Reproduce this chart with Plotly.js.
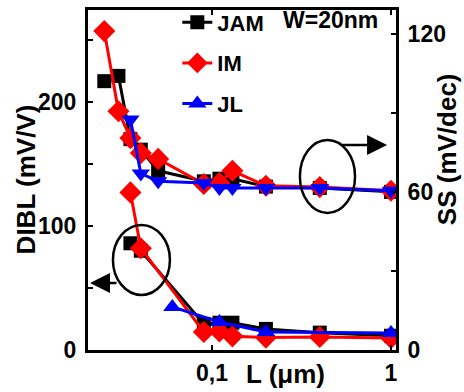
<!DOCTYPE html>
<html>
<head>
<meta charset="utf-8">
<script src="https://cdn.plot.ly/plotly-3.0.1.min.js"></script>
<style>html,body{margin:0;padding:0;background:#fff;}#chart{width:464px;height:392px;}</style>
</head>
<body>
<div id="chart"></div>
<script>
// ---- data ----
const seriesNames = ['JAM', 'IM', 'JL'];

// Subthreshold swing SS (mV/dec), right axis
const jamSS_L  = [0.025, 0.03, 0.035, 0.04, 0.05, 0.09, 0.11, 0.13, 0.2, 0.4, 1];
const jamSS    = [102, 104, 80, 76, 68, 64, 65, 65, 62, 61.5, 60];
const imSS_L   = [0.025, 0.03, 0.035, 0.04, 0.05, 0.09, 0.11, 0.13, 0.2, 0.4, 1];
const imSS     = [121, 90.6, 80.4, 74.7, 72.5, 63, 63.4, 68, 62.3, 61.8, 60.4];
const jlSS_L   = [0.035, 0.04, 0.05, 0.09, 0.11, 0.13, 0.2, 0.4, 1];
const jlSS     = [87.5, 67, 64, 63.4, 61.5, 61.5, 61.5, 61.5, 60.4];

// DIBL (mV/V), left axis
const jamDIBL_L = [0.035, 0.04, 0.09, 0.11, 0.13, 0.2, 0.4, 1];
const jamDIBL   = [86, 80, 21, 22, 22, 17, 14, 11.5];
const imDIBL_L  = [0.035, 0.04, 0.09, 0.11, 0.13, 0.2, 0.4, 1];
const imDIBL    = [127, 82, 14.5, 15, 11, 10, 10.5, 9.7];
const jlDIBL_L  = [0.06, 0.11, 0.2, 1];
const jlDIBL    = [34.7, 22.6, 14.5, 13.7];

// tick labels
const xTickVals = [0.1, 1];
const xTickText = ['0,1', '1'];
const yTickVals = [0, 50, 100, 150, 200, 250];
const yTickText = ['0', '', '100', '', '200', ''];
const y2TickVals = [0, 30, 60, 90, 120];
const y2TickText = ['0', '', '60', '', '120'];

// ---- styles ----
const FONT = 'Liberation Sans, Arial, Helvetica, sans-serif';
const colors = {JAM: '#000000', IM: '#ff0000', JL: '#0000ff'};

function tr(name, x, y, yaxis, symbol, size, showlegend) {
  return {
    x: x, y: y, yaxis: yaxis, name: name, type: 'scatter', mode: 'lines+markers',
    line: {color: colors[name], width: 3},
    marker: {symbol: symbol, size: size, color: colors[name], line: {width: 0}},
    legendgroup: name, showlegend: showlegend
  };
}

const data = [
  tr('JAM', jamSS_L, jamSS, 'y2', 'square', 14, false),
  tr('JAM', jamDIBL_L, jamDIBL, 'y', 'square', 14, true),
  tr('IM', imSS_L, imSS, 'y2', 'diamond', 17, false),
  tr('IM', imDIBL_L, imDIBL, 'y', 'diamond', 17, true),
  tr('JL', jlSS_L, jlSS, 'y2', 'triangle-down', 16, false),
  tr('JL', jlDIBL_L, jlDIBL, 'y', 'triangle-up', 16, true)
];

const tickFont = {family: FONT, size: 23, color: '#000', weight: 'bold'};
const titleFont = {family: FONT, size: 26, color: '#000', weight: 'bold'};

const layout = {
  width: 464, height: 392,
  margin: {l: 88, r: 68, t: 10, b: 42, autoexpand: false},
  paper_bgcolor: '#fff', plot_bgcolor: '#fff',
  showlegend: true,
  legend: {
    x: 0.29, y: 1.025, xanchor: 'left', yanchor: 'top',
    bgcolor: 'rgba(0,0,0,0)', borderwidth: 0,
    font: {family: FONT, size: 22, color: '#000', weight: 'bold'},
    traceorder: 'grouped', tracegroupgap: 9
  },
  xaxis: {
    type: 'log', range: [-1.693, 0.028],
    tickvals: xTickVals, ticktext: xTickText,
    ticks: 'inside', ticklen: 5, tickwidth: 2, tickcolor: '#000',
    showline: true, linewidth: 3, linecolor: '#000', mirror: 'ticks',
    showgrid: false, zeroline: false, tickfont: tickFont
  },
  yaxis: {
    range: [0, 274],
    tickvals: yTickVals, ticktext: yTickText,
    ticks: 'inside', ticklen: 5, tickwidth: 2, tickcolor: '#000',
    showline: true, linewidth: 3, linecolor: '#000', ticklabelstandoff: 4,
    showgrid: false, zeroline: false, tickfont: tickFont
  },
  yaxis2: {
    overlaying: 'y', side: 'right', range: [0, 129],
    tickvals: y2TickVals, ticktext: y2TickText,
    ticks: 'inside', ticklen: 5, tickwidth: 2, tickcolor: '#000',
    showline: true, linewidth: 3, linecolor: '#000', ticklabelstandoff: 4,
    showgrid: false, zeroline: false, tickfont: tickFont
  },
  shapes: [
    {type: 'circle', xref: 'paper', yref: 'paper', x0: 0.081, x1: 0.266, y0: 0.162, y1: 0.368,
     line: {color: '#000', width: 2.5}},
    {type: 'circle', xref: 'paper', yref: 'paper', x0: 0.688, x1: 0.867, y0: 0.403, y1: 0.618,
     line: {color: '#000', width: 2.5}}
  ],
  annotations: [
    {xref: 'paper', yref: 'paper', x: 0.0065, y: 0.197, ax: 28, ay: 0, text: '',
     showarrow: true, arrowhead: 2, arrowsize: 1.6, arrowwidth: 2.5, arrowcolor: '#000'},
    {xref: 'paper', yref: 'paper', x: 0.971, y: 0.603, ax: -47, ay: 0, text: '',
     showarrow: true, arrowhead: 2, arrowsize: 1.6, arrowwidth: 2.5, arrowcolor: '#000'},
    {xref: 'paper', yref: 'paper', x: 0.786, y: 0.97, text: 'W=20nm', showarrow: false,
     xanchor: 'center', yanchor: 'middle', font: {family: FONT, size: 23, color: '#000', weight: 'bold'}},
    {xref: 'paper', yref: 'paper', x: 0.64, y: -0.0706, text: 'L (μm)', showarrow: false,
     xanchor: 'center', yanchor: 'middle', font: titleFont},
    {xref: 'paper', yref: 'paper', x: -0.2, y: 0.503, text: 'DIBL (mV/V)', showarrow: false,
     textangle: -90, xanchor: 'center', yanchor: 'middle', font: titleFont},
    {xref: 'paper', yref: 'paper', x: 1.166, y: 0.591, text: 'SS (mV/dec)', showarrow: false,
     textangle: -90, xanchor: 'center', yanchor: 'middle', font: titleFont}
  ]
};

Plotly.newPlot('chart', data, layout, {displayModeBar: false, staticPlot: true});
</script>
</body>
</html>
